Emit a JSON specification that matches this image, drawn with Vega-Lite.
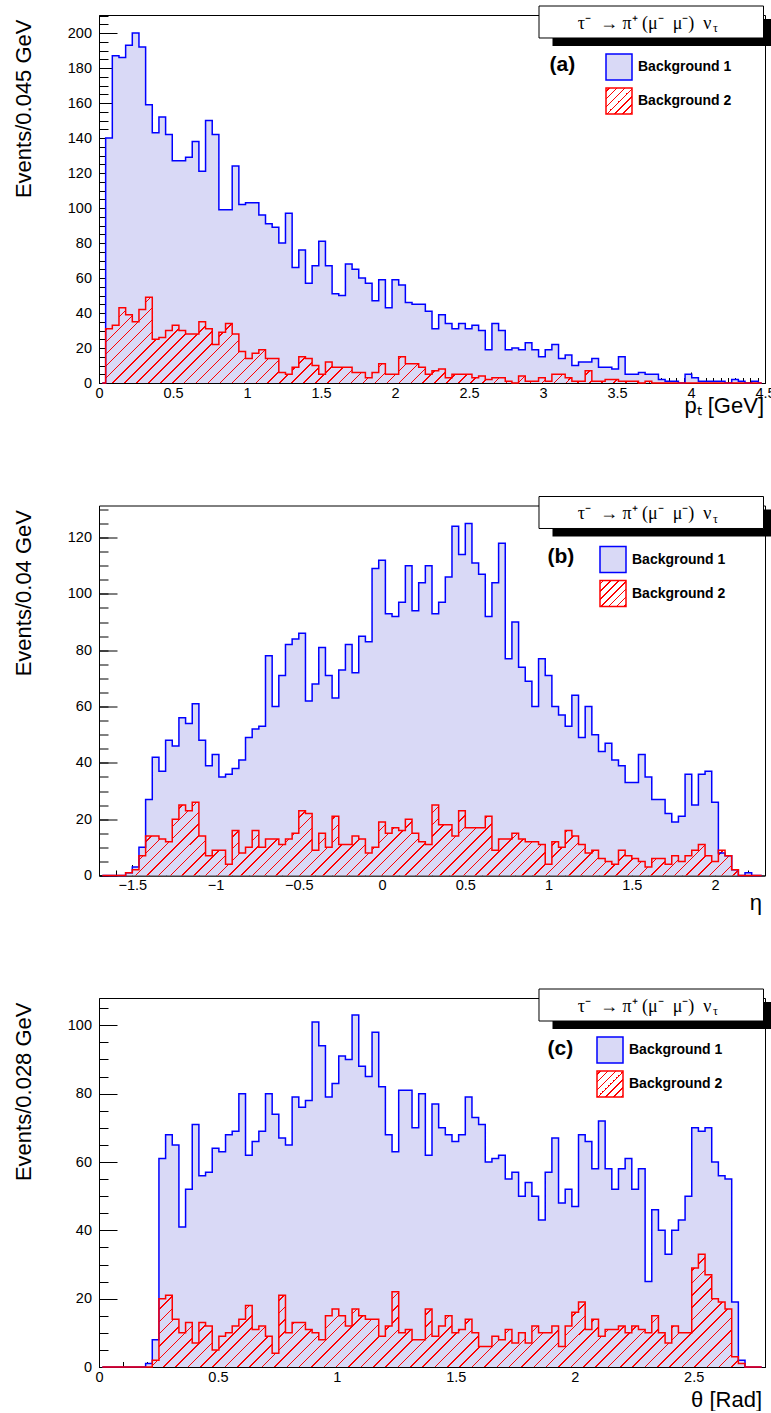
{
"$schema": "https://vega.github.io/schema/vega-lite/v6.json",
"padding": {"left": 11, "top": 5, "right": 0, "bottom": 0},
"bounds": "flush",
"spacing": 122.5,
"datasets": {
"a": [{"x":0.0225,"b1":0,"b2":0},{"x":0.0675,"b1":140,"b2":31},{"x":0.1125,"b1":187,"b2":33},{"x":0.1575,"b1":186,"b2":43},{"x":0.2025,"b1":193,"b2":39},{"x":0.2475,"b1":200,"b2":35},{"x":0.2925,"b1":192,"b2":42},{"x":0.3375,"b1":159,"b2":49},{"x":0.3825,"b1":143,"b2":25},{"x":0.4275,"b1":152,"b2":26},
{"x":0.4725,"b1":142,"b2":30},{"x":0.5175,"b1":127,"b2":33},{"x":0.5625,"b1":127,"b2":30},{"x":0.6075,"b1":129,"b2":28},{"x":0.6525,"b1":138,"b2":28},{"x":0.6975,"b1":121,"b2":35},{"x":0.7425,"b1":150,"b2":31},{"x":0.7875,"b1":142,"b2":22},{"x":0.8325,"b1":99,"b2":29},{"x":0.8775,"b1":99,"b2":34},
{"x":0.9225,"b1":124,"b2":28},{"x":0.9675,"b1":102,"b2":18},{"x":1.0125,"b1":103,"b2":14},{"x":1.0575,"b1":103,"b2":17},{"x":1.1025,"b1":96,"b2":19},{"x":1.1475,"b1":91,"b2":14},{"x":1.1925,"b1":89,"b2":14},{"x":1.2375,"b1":80,"b2":6},{"x":1.2825,"b1":97,"b2":5},{"x":1.3275,"b1":66,"b2":9},
{"x":1.3725,"b1":76,"b2":15},{"x":1.4175,"b1":57,"b2":14},{"x":1.4625,"b1":67,"b2":10},{"x":1.5075,"b1":81,"b2":5},{"x":1.5525,"b1":67,"b2":12},{"x":1.5975,"b1":51,"b2":9},{"x":1.6425,"b1":50,"b2":9},{"x":1.6875,"b1":68,"b2":9},{"x":1.7325,"b1":65,"b2":6},{"x":1.7775,"b1":60,"b2":6},
{"x":1.8225,"b1":57,"b2":3},{"x":1.8675,"b1":47,"b2":6},{"x":1.9125,"b1":59,"b2":11},{"x":1.9575,"b1":43,"b2":5},{"x":2.0025,"b1":59,"b2":5},{"x":2.0475,"b1":56,"b2":15},{"x":2.0925,"b1":46,"b2":11},{"x":2.1375,"b1":45,"b2":11},{"x":2.1825,"b1":45,"b2":9},{"x":2.2275,"b1":41,"b2":5},
{"x":2.2725,"b1":31,"b2":7},{"x":2.3175,"b1":39,"b2":8},{"x":2.3625,"b1":34,"b2":3},{"x":2.4075,"b1":31,"b2":5},{"x":2.4525,"b1":34,"b2":5},{"x":2.4975,"b1":31,"b2":5},{"x":2.5425,"b1":33,"b2":3},{"x":2.5875,"b1":30,"b2":4},{"x":2.6325,"b1":19,"b2":2},{"x":2.6775,"b1":34,"b2":3},
{"x":2.7225,"b1":30,"b2":3},{"x":2.7675,"b1":19,"b2":1},{"x":2.8125,"b1":20,"b2":0},{"x":2.8575,"b1":19,"b2":4},{"x":2.9025,"b1":23,"b2":1},{"x":2.9475,"b1":19,"b2":1},{"x":2.9925,"b1":15,"b2":3},{"x":3.0375,"b1":19,"b2":1},{"x":3.0825,"b1":22,"b2":5},{"x":3.1275,"b1":14,"b2":5},
{"x":3.1725,"b1":16,"b2":3},{"x":3.2175,"b1":10,"b2":1},{"x":3.2625,"b1":12,"b2":1},{"x":3.3075,"b1":12,"b2":7},{"x":3.3525,"b1":14,"b2":1},{"x":3.3975,"b1":9,"b2":1},{"x":3.4425,"b1":9,"b2":2},{"x":3.4875,"b1":8,"b2":2},{"x":3.5325,"b1":15,"b2":1},{"x":3.5775,"b1":5,"b2":1},
{"x":3.6225,"b1":5,"b2":1},{"x":3.6675,"b1":6,"b2":0},{"x":3.7125,"b1":5,"b2":1},{"x":3.7575,"b1":5,"b2":0},{"x":3.8025,"b1":2,"b2":0},{"x":3.8475,"b1":1,"b2":0},{"x":3.8925,"b1":1,"b2":0},{"x":3.9375,"b1":0,"b2":0},{"x":3.9825,"b1":5,"b2":0},{"x":4.0275,"b1":3,"b2":0},
{"x":4.0725,"b1":1,"b2":0},{"x":4.1175,"b1":1,"b2":0},{"x":4.1625,"b1":1,"b2":0},{"x":4.2075,"b1":1,"b2":0},{"x":4.2525,"b1":0,"b2":0},{"x":4.2975,"b1":2,"b2":0},{"x":4.3425,"b1":1,"b2":0},{"x":4.3875,"b1":0,"b2":0},{"x":4.4325,"b1":1,"b2":0},{"x":4.4775,"b1":0,"b2":0}],
"b": [{"x":-1.68,"b1":0,"b2":0},{"x":-1.64,"b1":0,"b2":0},{"x":-1.6,"b1":0,"b2":0},{"x":-1.56,"b1":0,"b2":0},{"x":-1.52,"b1":1,"b2":1},{"x":-1.48,"b1":3,"b2":2},{"x":-1.44,"b1":10,"b2":7},{"x":-1.4,"b1":27,"b2":14},{"x":-1.36,"b1":42,"b2":14},{"x":-1.32,"b1":37,"b2":13},
{"x":-1.28,"b1":48,"b2":12},{"x":-1.24,"b1":46,"b2":20},{"x":-1.2,"b1":56,"b2":25},{"x":-1.16,"b1":54,"b2":23},{"x":-1.12,"b1":61,"b2":26},{"x":-1.08,"b1":48,"b2":14},{"x":-1.04,"b1":39,"b2":7},{"x":-1,"b1":43,"b2":9},{"x":-0.96,"b1":35,"b2":9},{"x":-0.92,"b1":36,"b2":4},
{"x":-0.88,"b1":38,"b2":16},{"x":-0.84,"b1":41,"b2":8},{"x":-0.8,"b1":49,"b2":10},{"x":-0.76,"b1":52,"b2":16},{"x":-0.72,"b1":53,"b2":10},{"x":-0.68,"b1":78,"b2":13},{"x":-0.64,"b1":60,"b2":13},{"x":-0.6,"b1":71,"b2":11},{"x":-0.56,"b1":82,"b2":13},{"x":-0.52,"b1":84,"b2":15},
{"x":-0.48,"b1":86,"b2":23},{"x":-0.44,"b1":62,"b2":22},{"x":-0.4,"b1":68,"b2":9},{"x":-0.36,"b1":81,"b2":15},{"x":-0.32,"b1":71,"b2":10},{"x":-0.28,"b1":63,"b2":21},{"x":-0.24,"b1":73,"b2":11},{"x":-0.2,"b1":82,"b2":11},{"x":-0.16,"b1":72,"b2":14},{"x":-0.12,"b1":85,"b2":13},
{"x":-0.08,"b1":83,"b2":8},{"x":-0.04,"b1":109,"b2":10},{"x":0,"b1":112,"b2":19},{"x":0.04,"b1":93,"b2":15},{"x":0.08,"b1":92,"b2":17},{"x":0.12,"b1":97,"b2":16},{"x":0.16,"b1":110,"b2":20},{"x":0.2,"b1":94,"b2":15},{"x":0.24,"b1":104,"b2":12},{"x":0.28,"b1":110,"b2":11},
{"x":0.32,"b1":93,"b2":25},{"x":0.36,"b1":97,"b2":18},{"x":0.4,"b1":106,"b2":18},{"x":0.44,"b1":124,"b2":14},{"x":0.48,"b1":114,"b2":23},{"x":0.52,"b1":125,"b2":17},{"x":0.56,"b1":111,"b2":17},{"x":0.6,"b1":107,"b2":17},{"x":0.64,"b1":92,"b2":21},{"x":0.68,"b1":104,"b2":9},
{"x":0.72,"b1":118,"b2":13},{"x":0.76,"b1":77,"b2":13},{"x":0.8,"b1":90,"b2":15},{"x":0.84,"b1":74,"b2":13},{"x":0.88,"b1":69,"b2":12},{"x":0.92,"b1":60,"b2":12},{"x":0.96,"b1":77,"b2":11},{"x":1,"b1":71,"b2":4},{"x":1.04,"b1":60,"b2":12},{"x":1.08,"b1":57,"b2":10},
{"x":1.12,"b1":53,"b2":16},{"x":1.16,"b1":64,"b2":14},{"x":1.2,"b1":49,"b2":11},{"x":1.24,"b1":60,"b2":8},{"x":1.28,"b1":50,"b2":9},{"x":1.32,"b1":44,"b2":6},{"x":1.36,"b1":47,"b2":5},{"x":1.4,"b1":41,"b2":4},{"x":1.44,"b1":39,"b2":9},{"x":1.48,"b1":33,"b2":7},
{"x":1.52,"b1":33,"b2":6},{"x":1.56,"b1":43,"b2":5},{"x":1.6,"b1":35,"b2":3},{"x":1.64,"b1":27,"b2":6},{"x":1.68,"b1":27,"b2":6},{"x":1.72,"b1":22,"b2":4},{"x":1.76,"b1":19,"b2":7},{"x":1.8,"b1":21,"b2":5},{"x":1.84,"b1":36,"b2":7},{"x":1.88,"b1":25,"b2":9},
{"x":1.92,"b1":36,"b2":11},{"x":1.96,"b1":37,"b2":7},{"x":2,"b1":26,"b2":5},{"x":2.04,"b1":8,"b2":9},{"x":2.08,"b1":7,"b2":7},{"x":2.12,"b1":2,"b2":2},{"x":2.16,"b1":0,"b2":0},{"x":2.2,"b1":1,"b2":0},{"x":2.24,"b1":0,"b2":0},{"x":2.28,"b1":0,"b2":0}],
"c": [{"x":0.014,"b1":0,"b2":0},{"x":0.042,"b1":0,"b2":0},{"x":0.07,"b1":0,"b2":0},{"x":0.098,"b1":0,"b2":0},{"x":0.126,"b1":0,"b2":0},{"x":0.154,"b1":0,"b2":0},{"x":0.182,"b1":0,"b2":0},{"x":0.21,"b1":1,"b2":0},{"x":0.238,"b1":8,"b2":2},{"x":0.266,"b1":61,"b2":20},
{"x":0.294,"b1":68,"b2":21},{"x":0.322,"b1":65,"b2":14},{"x":0.35,"b1":41,"b2":10},{"x":0.378,"b1":52,"b2":13},{"x":0.406,"b1":71,"b2":7},{"x":0.434,"b1":56,"b2":13},{"x":0.462,"b1":57,"b2":12},{"x":0.49,"b1":64,"b2":5},{"x":0.518,"b1":63,"b2":9},{"x":0.546,"b1":68,"b2":10},
{"x":0.574,"b1":69,"b2":12},{"x":0.602,"b1":80,"b2":14},{"x":0.63,"b1":62,"b2":18},{"x":0.658,"b1":66,"b2":11},{"x":0.686,"b1":69,"b2":12},{"x":0.714,"b1":80,"b2":9},{"x":0.742,"b1":74,"b2":4},{"x":0.77,"b1":67,"b2":21},{"x":0.798,"b1":65,"b2":10},{"x":0.826,"b1":79,"b2":13},
{"x":0.854,"b1":76,"b2":13},{"x":0.882,"b1":78,"b2":11},{"x":0.91,"b1":101,"b2":10},{"x":0.938,"b1":94,"b2":8},{"x":0.966,"b1":79,"b2":15},{"x":0.994,"b1":83,"b2":17},{"x":1.022,"b1":91,"b2":15},{"x":1.05,"b1":90,"b2":12},{"x":1.078,"b1":103,"b2":17},{"x":1.106,"b1":88,"b2":15},
{"x":1.134,"b1":85,"b2":14},{"x":1.162,"b1":98,"b2":14},{"x":1.19,"b1":82,"b2":9},{"x":1.218,"b1":68,"b2":12},{"x":1.246,"b1":63,"b2":22},{"x":1.274,"b1":81,"b2":10},{"x":1.302,"b1":81,"b2":11},{"x":1.33,"b1":70,"b2":8},{"x":1.358,"b1":80,"b2":8},{"x":1.386,"b1":62,"b2":17},
{"x":1.414,"b1":77,"b2":9},{"x":1.442,"b1":70,"b2":12},{"x":1.47,"b1":68,"b2":15},{"x":1.498,"b1":66,"b2":10},{"x":1.526,"b1":68,"b2":11},{"x":1.554,"b1":79,"b2":14},{"x":1.582,"b1":73,"b2":10},{"x":1.61,"b1":71,"b2":6},{"x":1.638,"b1":60,"b2":6},{"x":1.666,"b1":61,"b2":9},
{"x":1.694,"b1":62,"b2":8},{"x":1.722,"b1":55,"b2":11},{"x":1.75,"b1":57,"b2":7},{"x":1.778,"b1":50,"b2":10},{"x":1.806,"b1":54,"b2":7},{"x":1.834,"b1":50,"b2":12},{"x":1.862,"b1":43,"b2":10},{"x":1.89,"b1":57,"b2":10},{"x":1.918,"b1":67,"b2":12},{"x":1.946,"b1":48,"b2":6},
{"x":1.974,"b1":52,"b2":12},{"x":2.002,"b1":47,"b2":16},{"x":2.03,"b1":68,"b2":19},{"x":2.058,"b1":66,"b2":11},{"x":2.086,"b1":58,"b2":14},{"x":2.114,"b1":72,"b2":9},{"x":2.142,"b1":58,"b2":11},{"x":2.17,"b1":52,"b2":11},{"x":2.198,"b1":58,"b2":12},{"x":2.226,"b1":61,"b2":10},
{"x":2.254,"b1":52,"b2":12},{"x":2.282,"b1":58,"b2":11},{"x":2.31,"b1":25,"b2":10},{"x":2.338,"b1":46,"b2":15},{"x":2.366,"b1":40,"b2":10},{"x":2.394,"b1":33,"b2":7},{"x":2.422,"b1":40,"b2":12},{"x":2.45,"b1":43,"b2":10},{"x":2.478,"b1":50,"b2":10},{"x":2.506,"b1":70,"b2":29},
{"x":2.534,"b1":69,"b2":33},{"x":2.562,"b1":70,"b2":27},{"x":2.59,"b1":60,"b2":20},{"x":2.618,"b1":56,"b2":19},{"x":2.646,"b1":55,"b2":17},{"x":2.674,"b1":19,"b2":3},{"x":2.702,"b1":2,"b2":1},{"x":2.73,"b1":0,"b2":0},{"x":2.758,"b1":0,"b2":0},{"x":2.786,"b1":0,"b2":0}]
},
"resolve": {"scale": {"stroke": "independent"}, "legend": {"stroke": "independent"}},
"vconcat": [
{
"width": 666, "height": 368,
"data": {"name": "a"},
"resolve": {"axis": {"x": "independent", "y": "independent"}},
"layer": [
{"mark": {"type": "area", "interpolate": "step", "fill": "#d9d9f6"},
 "encoding": {
  "x": {"field": "x", "type": "quantitative", "scale": {"domain": [0, 4.5], "nice": false, "zero": false},
        "axis": {"orient": "bottom", "values": [0,0.5,1,1.5,2,2.5,3,3.5,4,4.5], "format": "~f", "tickSize": -11, "labelPadding": 14, "title": "pₜ [GeV]", "titleX": 664.5, "titleY": 29}},
  "y": {"field": "b1", "type": "quantitative", "scale": {"domain": [0, 210.3], "nice": false},
        "axis": {"orient": "left", "values": [0,20,40,60,80,100,120,140,160,180,200], "format": "~f", "tickSize": -18, "labelPadding": 25.5, "title": "Events/0.045 GeV", "titleX": -69, "titleY": 4}}
 }},
{"mark": {"type": "area", "interpolate": "step", "fill": {"gradient": "linear", "x1": 0, "y1": 0, "x2": 1.1113, "y2": 0.1445, "stops": [{"offset":0,"color":"red"},{"offset":0.002,"color":"red"},{"offset":0.002,"color":"transparent"},{"offset":0.016,"color":"transparent"},{"offset":0.016,"color":"red"},{"offset":0.018,"color":"red"},{"offset":0.018,"color":"transparent"},{"offset":0.032,"color":"transparent"},{"offset":0.032,"color":"red"},{"offset":0.034,"color":"red"},{"offset":0.034,"color":"transparent"},{"offset":0.048,"color":"transparent"},{"offset":0.048,"color":"red"},{"offset":0.05,"color":"red"},{"offset":0.05,"color":"transparent"},{"offset":0.064,"color":"transparent"},{"offset":0.064,"color":"red"},{"offset":0.066,"color":"red"},{"offset":0.066,"color":"transparent"},{"offset":0.08,"color":"transparent"},{"offset":0.08,"color":"red"},{"offset":0.082,"color":"red"},{"offset":0.082,"color":"transparent"},{"offset":0.096,"color":"transparent"},{"offset":0.096,"color":"red"},{"offset":0.098,"color":"red"},{"offset":0.098,"color":"transparent"},{"offset":0.112,"color":"transparent"},{"offset":0.112,"color":"red"},{"offset":0.114,"color":"red"},{"offset":0.114,"color":"transparent"},{"offset":0.128,"color":"transparent"},{"offset":0.128,"color":"red"},{"offset":0.13,"color":"red"},{"offset":0.13,"color":"transparent"},{"offset":0.144,"color":"transparent"},{"offset":0.144,"color":"red"},{"offset":0.146,"color":"red"},{"offset":0.146,"color":"transparent"},{"offset":0.16,"color":"transparent"},{"offset":0.16,"color":"red"},{"offset":0.162,"color":"red"},{"offset":0.162,"color":"transparent"},{"offset":0.176,"color":"transparent"},{"offset":0.176,"color":"red"},{"offset":0.178,"color":"red"},{"offset":0.178,"color":"transparent"},{"offset":0.192,"color":"transparent"},{"offset":0.192,"color":"red"},{"offset":0.194,"color":"red"},{"offset":0.194,"color":"transparent"},{"offset":0.208,"color":"transparent"},{"offset":0.208,"color":"red"},{"offset":0.21,"color":"red"},{"offset":0.21,"color":"transparent"},{"offset":0.224,"color":"transparent"},{"offset":0.224,"color":"red"},{"offset":0.226,"color":"red"},{"offset":0.226,"color":"transparent"},{"offset":0.24,"color":"transparent"},{"offset":0.24,"color":"red"},{"offset":0.242,"color":"red"},{"offset":0.242,"color":"transparent"},{"offset":0.256,"color":"transparent"},{"offset":0.256,"color":"red"},{"offset":0.258,"color":"red"},{"offset":0.258,"color":"transparent"},{"offset":0.272,"color":"transparent"},{"offset":0.272,"color":"red"},{"offset":0.274,"color":"red"},{"offset":0.274,"color":"transparent"},{"offset":0.288,"color":"transparent"},{"offset":0.288,"color":"red"},{"offset":0.29,"color":"red"},{"offset":0.29,"color":"transparent"},{"offset":0.304,"color":"transparent"},{"offset":0.304,"color":"red"},{"offset":0.306,"color":"red"},{"offset":0.306,"color":"transparent"},{"offset":0.32,"color":"transparent"},{"offset":0.32,"color":"red"},{"offset":0.322,"color":"red"},{"offset":0.322,"color":"transparent"},{"offset":0.336,"color":"transparent"},{"offset":0.336,"color":"red"},{"offset":0.338,"color":"red"},{"offset":0.338,"color":"transparent"},{"offset":0.352,"color":"transparent"},{"offset":0.352,"color":"red"},{"offset":0.354,"color":"red"},{"offset":0.354,"color":"transparent"},{"offset":0.368,"color":"transparent"},{"offset":0.368,"color":"red"},{"offset":0.37,"color":"red"},{"offset":0.37,"color":"transparent"},{"offset":0.384,"color":"transparent"},{"offset":0.384,"color":"red"},{"offset":0.386,"color":"red"},{"offset":0.386,"color":"transparent"},{"offset":0.4,"color":"transparent"},{"offset":0.4,"color":"red"},{"offset":0.402,"color":"red"},{"offset":0.402,"color":"transparent"},{"offset":0.416,"color":"transparent"},{"offset":0.416,"color":"red"},{"offset":0.418,"color":"red"},{"offset":0.418,"color":"transparent"},{"offset":0.432,"color":"transparent"},{"offset":0.432,"color":"red"},{"offset":0.434,"color":"red"},{"offset":0.434,"color":"transparent"},{"offset":0.448,"color":"transparent"},{"offset":0.448,"color":"red"},{"offset":0.45,"color":"red"},{"offset":0.45,"color":"transparent"},{"offset":0.464,"color":"transparent"},{"offset":0.464,"color":"red"},{"offset":0.466,"color":"red"},{"offset":0.466,"color":"transparent"},{"offset":0.48,"color":"transparent"},{"offset":0.48,"color":"red"},{"offset":0.482,"color":"red"},{"offset":0.482,"color":"transparent"},{"offset":0.496,"color":"transparent"},{"offset":0.496,"color":"red"},{"offset":0.498,"color":"red"},{"offset":0.498,"color":"transparent"},{"offset":0.512,"color":"transparent"},{"offset":0.512,"color":"red"},{"offset":0.514,"color":"red"},{"offset":0.514,"color":"transparent"},{"offset":0.528,"color":"transparent"},{"offset":0.528,"color":"red"},{"offset":0.53,"color":"red"},{"offset":0.53,"color":"transparent"},{"offset":0.544,"color":"transparent"},{"offset":0.544,"color":"red"},{"offset":0.546,"color":"red"},{"offset":0.546,"color":"transparent"},{"offset":0.56,"color":"transparent"},{"offset":0.56,"color":"red"},{"offset":0.562,"color":"red"},{"offset":0.562,"color":"transparent"},{"offset":0.576,"color":"transparent"},{"offset":0.576,"color":"red"},{"offset":0.578,"color":"red"},{"offset":0.578,"color":"transparent"},{"offset":0.592,"color":"transparent"},{"offset":0.592,"color":"red"},{"offset":0.594,"color":"red"},{"offset":0.594,"color":"transparent"},{"offset":0.608,"color":"transparent"},{"offset":0.608,"color":"red"},{"offset":0.61,"color":"red"},{"offset":0.61,"color":"transparent"},{"offset":0.624,"color":"transparent"},{"offset":0.624,"color":"red"},{"offset":0.626,"color":"red"},{"offset":0.626,"color":"transparent"},{"offset":0.64,"color":"transparent"},{"offset":0.64,"color":"red"},{"offset":0.642,"color":"red"},{"offset":0.642,"color":"transparent"},{"offset":0.656,"color":"transparent"},{"offset":0.656,"color":"red"},{"offset":0.658,"color":"red"},{"offset":0.658,"color":"transparent"},{"offset":0.672,"color":"transparent"},{"offset":0.672,"color":"red"},{"offset":0.674,"color":"red"},{"offset":0.674,"color":"transparent"},{"offset":0.688,"color":"transparent"},{"offset":0.688,"color":"red"},{"offset":0.69,"color":"red"},{"offset":0.69,"color":"transparent"},{"offset":0.704,"color":"transparent"},{"offset":0.704,"color":"red"},{"offset":0.706,"color":"red"},{"offset":0.706,"color":"transparent"},{"offset":0.72,"color":"transparent"},{"offset":0.72,"color":"red"},{"offset":0.722,"color":"red"},{"offset":0.722,"color":"transparent"},{"offset":0.736,"color":"transparent"},{"offset":0.736,"color":"red"},{"offset":0.738,"color":"red"},{"offset":0.738,"color":"transparent"},{"offset":0.752,"color":"transparent"},{"offset":0.752,"color":"red"},{"offset":0.754,"color":"red"},{"offset":0.754,"color":"transparent"},{"offset":0.768,"color":"transparent"},{"offset":0.768,"color":"red"},{"offset":0.77,"color":"red"},{"offset":0.77,"color":"transparent"},{"offset":0.784,"color":"transparent"},{"offset":0.784,"color":"red"},{"offset":0.786,"color":"red"},{"offset":0.786,"color":"transparent"},{"offset":0.8,"color":"transparent"},{"offset":0.8,"color":"red"},{"offset":0.802,"color":"red"},{"offset":0.802,"color":"transparent"},{"offset":0.816,"color":"transparent"},{"offset":0.816,"color":"red"},{"offset":0.818,"color":"red"},{"offset":0.818,"color":"transparent"},{"offset":0.832,"color":"transparent"},{"offset":0.832,"color":"red"},{"offset":0.834,"color":"red"},{"offset":0.834,"color":"transparent"},{"offset":0.848,"color":"transparent"},{"offset":0.848,"color":"red"},{"offset":0.85,"color":"red"},{"offset":0.85,"color":"transparent"},{"offset":0.864,"color":"transparent"},{"offset":0.864,"color":"red"},{"offset":0.866,"color":"red"},{"offset":0.866,"color":"transparent"},{"offset":0.88,"color":"transparent"},{"offset":0.88,"color":"red"},{"offset":0.882,"color":"red"},{"offset":0.882,"color":"transparent"},{"offset":0.896,"color":"transparent"},{"offset":0.896,"color":"red"},{"offset":0.898,"color":"red"},{"offset":0.898,"color":"transparent"},{"offset":0.912,"color":"transparent"},{"offset":0.912,"color":"red"},{"offset":0.914,"color":"red"},{"offset":0.914,"color":"transparent"},{"offset":0.928,"color":"transparent"},{"offset":0.928,"color":"red"},{"offset":0.93,"color":"red"},{"offset":0.93,"color":"transparent"},{"offset":0.944,"color":"transparent"},{"offset":0.944,"color":"red"},{"offset":0.946,"color":"red"},{"offset":0.946,"color":"transparent"},{"offset":0.96,"color":"transparent"},{"offset":0.96,"color":"red"},{"offset":0.962,"color":"red"},{"offset":0.962,"color":"transparent"},{"offset":0.976,"color":"transparent"},{"offset":0.976,"color":"red"},{"offset":0.978,"color":"red"},{"offset":0.978,"color":"transparent"},{"offset":0.992,"color":"transparent"},{"offset":0.992,"color":"red"},{"offset":0.994,"color":"red"},{"offset":0.994,"color":"transparent"}]}},
 "encoding": {
  "x": {"field": "x", "type": "quantitative", "axis": {"orient": "bottom", "values": [0,0.05,0.1,0.15,0.2,0.25,0.3,0.35,0.4,0.45,0.5,0.55,0.6,0.65,0.7,0.75,0.8,0.85,0.9,0.95,1,1.05,1.1,1.15,1.2,1.25,1.3,1.35,1.4,1.45,1.5,1.55,1.6,1.65,1.7,1.75,1.8,1.85,1.9,1.95,2,2.05,2.1,2.15,2.2,2.25,2.3,2.35,2.4,2.45,2.5,2.55,2.6,2.65,2.7,2.75,2.8,2.85,2.9,2.95,3,3.05,3.1,3.15,3.2,3.25,3.3,3.35,3.4,3.45,3.5,3.55,3.6,3.65,3.7,3.75,3.8,3.85,3.9,3.95,4,4.05,4.1,4.15,4.2,4.25,4.3,4.35,4.4,4.45,4.5], "labels": false, "domain": false, "tickSize": -5.5, "title": null}},
  "y": {"field": "b2", "type": "quantitative", "axis": {"orient": "left", "values": [0,5,10,15,20,25,30,35,40,45,50,55,60,65,70,75,80,85,90,95,100,105,110,115,120,125,130,135,140,145,150,155,160,165,170,175,180,185,190,195,200,205,210], "labels": false, "domain": false, "tickSize": -9, "title": null}}
 }},
{"mark": {"type": "line", "interpolate": "step", "strokeWidth": 1.5},
 "encoding": {
  "x": {"field": "x", "type": "quantitative", "axis": null},
  "y": {"field": "b1", "type": "quantitative", "axis": null},
  "stroke": {"datum": "Background 1", "type": "nominal", "scale": {"domain": ["Background 1", "Background 2"], "range": ["#0000ff", "#ff0000"]},
    "legend": {"legendX": 506, "legendY": 38, "encode": {"symbols": {"update": {"fill": [{"test": "datum.value === 'Background 1'", "value": "#d9d9f6"}, {"value": {"gradient": "linear", "x1": 0, "y1": 0, "x2": 1, "y2": 1, "stops": [{"offset":0.05,"color":"transparent"},{"offset":0.05,"color":"red"},{"offset":0.08,"color":"red"},{"offset":0.08,"color":"transparent"},{"offset":0.2,"color":"transparent"},{"offset":0.2,"color":"red"},{"offset":0.23,"color":"red"},{"offset":0.23,"color":"transparent"},{"offset":0.35,"color":"transparent"},{"offset":0.35,"color":"red"},{"offset":0.38,"color":"red"},{"offset":0.38,"color":"transparent"},{"offset":0.5,"color":"transparent"},{"offset":0.5,"color":"red"},{"offset":0.53,"color":"red"},{"offset":0.53,"color":"transparent"},{"offset":0.65,"color":"transparent"},{"offset":0.65,"color":"red"},{"offset":0.68,"color":"red"},{"offset":0.68,"color":"transparent"},{"offset":0.8,"color":"transparent"},{"offset":0.8,"color":"red"},{"offset":0.83,"color":"red"},{"offset":0.83,"color":"transparent"},{"offset":0.95,"color":"transparent"},{"offset":0.95,"color":"red"},{"offset":0.98,"color":"red"},{"offset":0.98,"color":"transparent"}]}}], "fillOpacity": {"value": 1}}}}}}
 }},
{"mark": {"type": "line", "interpolate": "step", "strokeWidth": 1.5},
 "encoding": {
  "x": {"field": "x", "type": "quantitative", "axis": null},
  "y": {"field": "b2", "type": "quantitative", "axis": null},
  "stroke": {"datum": "Background 2", "type": "nominal"}
 }},
{"data": {"values": [{}]}, "mark": {"type": "rect", "fill": "black"},
 "encoding": {"x": {"datum": 3.0642, "type": "quantitative", "axis": null}, "x2": {"datum": 4.5507}, "y": {"datum": 208.01, "type": "quantitative", "axis": null}, "y2": {"datum": 192.59}}},
{"data": {"values": [{}]}, "mark": {"type": "rect", "fill": "white", "stroke": "black", "strokeWidth": 1},
 "encoding": {"x": {"datum": 2.973, "type": "quantitative", "axis": null}, "x2": {"datum": 4.4899}, "y": {"datum": 215.44, "type": "quantitative", "axis": null}, "y2": {"datum": 197.16}}},
{"data": {"values": [{}]}, "mark": {"type": "text", "text": "τ⁻\u00a0 → π⁺ (μ⁻\u00a0 μ⁻)\u00a0 ν", "align": "right", "baseline": "alphabetic", "font": "Liberation Serif", "fontSize": 18, "fill": "black"},
 "encoding": {"x": {"datum": 4.1385, "type": "quantitative", "axis": null}, "y": {"datum": 202.3, "type": "quantitative", "axis": null}}},
{"data": {"values": [{}]}, "mark": {"type": "text", "text": "τ", "align": "left", "baseline": "alphabetic", "font": "Liberation Serif", "fontSize": 12, "fill": "black"},
 "encoding": {"x": {"datum": 4.1486, "type": "quantitative", "axis": null}, "y": {"datum": 200.3, "type": "quantitative", "axis": null}}},
{"data": {"values": [{}]}, "mark": {"type": "text", "text": "(a)", "align": "left", "baseline": "middle", "font": "Liberation Sans", "fontSize": 21, "fontWeight": "bold", "fill": "black"},
 "encoding": {"x": {"datum": 3.0439, "type": "quantitative", "axis": null}, "y": {"datum": 182.01, "type": "quantitative", "axis": null}}}
]
},
{
"width": 666, "height": 370,
"data": {"name": "b"},
"resolve": {"axis": {"x": "independent", "y": "independent"}},
"layer": [
{"mark": {"type": "area", "interpolate": "step", "fill": "#d9d9f6"},
 "encoding": {
  "x": {"field": "x", "type": "quantitative", "scale": {"domain": [-1.7, 2.3], "nice": false, "zero": false},
        "axis": {"orient": "bottom", "values": [-1.5,-1,-0.5,0,0.5,1,1.5,2], "format": "~f", "tickSize": -11, "labelPadding": 14, "title": "η", "titleX": 662.5, "titleY": 34}},
  "y": {"field": "b1", "type": "quantitative", "scale": {"domain": [0, 131.4], "nice": false},
        "axis": {"orient": "left", "values": [0,20,40,60,80,100,120], "format": "~f", "tickSize": -18, "labelPadding": 25.5, "title": "Events/0.04 GeV", "titleX": -69, "titleY": 4}}
 }},
{"mark": {"type": "area", "interpolate": "step", "fill": {"gradient": "linear", "x1": 0, "y1": 0, "x2": 1.0975, "y2": 0.1219, "stops": [{"offset":0,"color":"red"},{"offset":0.002,"color":"red"},{"offset":0.002,"color":"transparent"},{"offset":0.016,"color":"transparent"},{"offset":0.016,"color":"red"},{"offset":0.018,"color":"red"},{"offset":0.018,"color":"transparent"},{"offset":0.032,"color":"transparent"},{"offset":0.032,"color":"red"},{"offset":0.034,"color":"red"},{"offset":0.034,"color":"transparent"},{"offset":0.048,"color":"transparent"},{"offset":0.048,"color":"red"},{"offset":0.05,"color":"red"},{"offset":0.05,"color":"transparent"},{"offset":0.064,"color":"transparent"},{"offset":0.064,"color":"red"},{"offset":0.066,"color":"red"},{"offset":0.066,"color":"transparent"},{"offset":0.08,"color":"transparent"},{"offset":0.08,"color":"red"},{"offset":0.082,"color":"red"},{"offset":0.082,"color":"transparent"},{"offset":0.096,"color":"transparent"},{"offset":0.096,"color":"red"},{"offset":0.098,"color":"red"},{"offset":0.098,"color":"transparent"},{"offset":0.112,"color":"transparent"},{"offset":0.112,"color":"red"},{"offset":0.114,"color":"red"},{"offset":0.114,"color":"transparent"},{"offset":0.128,"color":"transparent"},{"offset":0.128,"color":"red"},{"offset":0.13,"color":"red"},{"offset":0.13,"color":"transparent"},{"offset":0.144,"color":"transparent"},{"offset":0.144,"color":"red"},{"offset":0.146,"color":"red"},{"offset":0.146,"color":"transparent"},{"offset":0.16,"color":"transparent"},{"offset":0.16,"color":"red"},{"offset":0.162,"color":"red"},{"offset":0.162,"color":"transparent"},{"offset":0.176,"color":"transparent"},{"offset":0.176,"color":"red"},{"offset":0.178,"color":"red"},{"offset":0.178,"color":"transparent"},{"offset":0.192,"color":"transparent"},{"offset":0.192,"color":"red"},{"offset":0.194,"color":"red"},{"offset":0.194,"color":"transparent"},{"offset":0.208,"color":"transparent"},{"offset":0.208,"color":"red"},{"offset":0.21,"color":"red"},{"offset":0.21,"color":"transparent"},{"offset":0.224,"color":"transparent"},{"offset":0.224,"color":"red"},{"offset":0.226,"color":"red"},{"offset":0.226,"color":"transparent"},{"offset":0.24,"color":"transparent"},{"offset":0.24,"color":"red"},{"offset":0.242,"color":"red"},{"offset":0.242,"color":"transparent"},{"offset":0.256,"color":"transparent"},{"offset":0.256,"color":"red"},{"offset":0.258,"color":"red"},{"offset":0.258,"color":"transparent"},{"offset":0.272,"color":"transparent"},{"offset":0.272,"color":"red"},{"offset":0.274,"color":"red"},{"offset":0.274,"color":"transparent"},{"offset":0.288,"color":"transparent"},{"offset":0.288,"color":"red"},{"offset":0.29,"color":"red"},{"offset":0.29,"color":"transparent"},{"offset":0.304,"color":"transparent"},{"offset":0.304,"color":"red"},{"offset":0.306,"color":"red"},{"offset":0.306,"color":"transparent"},{"offset":0.32,"color":"transparent"},{"offset":0.32,"color":"red"},{"offset":0.322,"color":"red"},{"offset":0.322,"color":"transparent"},{"offset":0.336,"color":"transparent"},{"offset":0.336,"color":"red"},{"offset":0.338,"color":"red"},{"offset":0.338,"color":"transparent"},{"offset":0.352,"color":"transparent"},{"offset":0.352,"color":"red"},{"offset":0.354,"color":"red"},{"offset":0.354,"color":"transparent"},{"offset":0.368,"color":"transparent"},{"offset":0.368,"color":"red"},{"offset":0.37,"color":"red"},{"offset":0.37,"color":"transparent"},{"offset":0.384,"color":"transparent"},{"offset":0.384,"color":"red"},{"offset":0.386,"color":"red"},{"offset":0.386,"color":"transparent"},{"offset":0.4,"color":"transparent"},{"offset":0.4,"color":"red"},{"offset":0.402,"color":"red"},{"offset":0.402,"color":"transparent"},{"offset":0.416,"color":"transparent"},{"offset":0.416,"color":"red"},{"offset":0.418,"color":"red"},{"offset":0.418,"color":"transparent"},{"offset":0.432,"color":"transparent"},{"offset":0.432,"color":"red"},{"offset":0.434,"color":"red"},{"offset":0.434,"color":"transparent"},{"offset":0.448,"color":"transparent"},{"offset":0.448,"color":"red"},{"offset":0.45,"color":"red"},{"offset":0.45,"color":"transparent"},{"offset":0.464,"color":"transparent"},{"offset":0.464,"color":"red"},{"offset":0.466,"color":"red"},{"offset":0.466,"color":"transparent"},{"offset":0.48,"color":"transparent"},{"offset":0.48,"color":"red"},{"offset":0.482,"color":"red"},{"offset":0.482,"color":"transparent"},{"offset":0.496,"color":"transparent"},{"offset":0.496,"color":"red"},{"offset":0.498,"color":"red"},{"offset":0.498,"color":"transparent"},{"offset":0.512,"color":"transparent"},{"offset":0.512,"color":"red"},{"offset":0.514,"color":"red"},{"offset":0.514,"color":"transparent"},{"offset":0.528,"color":"transparent"},{"offset":0.528,"color":"red"},{"offset":0.53,"color":"red"},{"offset":0.53,"color":"transparent"},{"offset":0.544,"color":"transparent"},{"offset":0.544,"color":"red"},{"offset":0.546,"color":"red"},{"offset":0.546,"color":"transparent"},{"offset":0.56,"color":"transparent"},{"offset":0.56,"color":"red"},{"offset":0.562,"color":"red"},{"offset":0.562,"color":"transparent"},{"offset":0.576,"color":"transparent"},{"offset":0.576,"color":"red"},{"offset":0.578,"color":"red"},{"offset":0.578,"color":"transparent"},{"offset":0.592,"color":"transparent"},{"offset":0.592,"color":"red"},{"offset":0.594,"color":"red"},{"offset":0.594,"color":"transparent"},{"offset":0.608,"color":"transparent"},{"offset":0.608,"color":"red"},{"offset":0.61,"color":"red"},{"offset":0.61,"color":"transparent"},{"offset":0.624,"color":"transparent"},{"offset":0.624,"color":"red"},{"offset":0.626,"color":"red"},{"offset":0.626,"color":"transparent"},{"offset":0.64,"color":"transparent"},{"offset":0.64,"color":"red"},{"offset":0.642,"color":"red"},{"offset":0.642,"color":"transparent"},{"offset":0.656,"color":"transparent"},{"offset":0.656,"color":"red"},{"offset":0.658,"color":"red"},{"offset":0.658,"color":"transparent"},{"offset":0.672,"color":"transparent"},{"offset":0.672,"color":"red"},{"offset":0.674,"color":"red"},{"offset":0.674,"color":"transparent"},{"offset":0.688,"color":"transparent"},{"offset":0.688,"color":"red"},{"offset":0.69,"color":"red"},{"offset":0.69,"color":"transparent"},{"offset":0.704,"color":"transparent"},{"offset":0.704,"color":"red"},{"offset":0.706,"color":"red"},{"offset":0.706,"color":"transparent"},{"offset":0.72,"color":"transparent"},{"offset":0.72,"color":"red"},{"offset":0.722,"color":"red"},{"offset":0.722,"color":"transparent"},{"offset":0.736,"color":"transparent"},{"offset":0.736,"color":"red"},{"offset":0.738,"color":"red"},{"offset":0.738,"color":"transparent"},{"offset":0.752,"color":"transparent"},{"offset":0.752,"color":"red"},{"offset":0.754,"color":"red"},{"offset":0.754,"color":"transparent"},{"offset":0.768,"color":"transparent"},{"offset":0.768,"color":"red"},{"offset":0.77,"color":"red"},{"offset":0.77,"color":"transparent"},{"offset":0.784,"color":"transparent"},{"offset":0.784,"color":"red"},{"offset":0.786,"color":"red"},{"offset":0.786,"color":"transparent"},{"offset":0.8,"color":"transparent"},{"offset":0.8,"color":"red"},{"offset":0.802,"color":"red"},{"offset":0.802,"color":"transparent"},{"offset":0.816,"color":"transparent"},{"offset":0.816,"color":"red"},{"offset":0.818,"color":"red"},{"offset":0.818,"color":"transparent"},{"offset":0.832,"color":"transparent"},{"offset":0.832,"color":"red"},{"offset":0.834,"color":"red"},{"offset":0.834,"color":"transparent"},{"offset":0.848,"color":"transparent"},{"offset":0.848,"color":"red"},{"offset":0.85,"color":"red"},{"offset":0.85,"color":"transparent"},{"offset":0.864,"color":"transparent"},{"offset":0.864,"color":"red"},{"offset":0.866,"color":"red"},{"offset":0.866,"color":"transparent"},{"offset":0.88,"color":"transparent"},{"offset":0.88,"color":"red"},{"offset":0.882,"color":"red"},{"offset":0.882,"color":"transparent"},{"offset":0.896,"color":"transparent"},{"offset":0.896,"color":"red"},{"offset":0.898,"color":"red"},{"offset":0.898,"color":"transparent"},{"offset":0.912,"color":"transparent"},{"offset":0.912,"color":"red"},{"offset":0.914,"color":"red"},{"offset":0.914,"color":"transparent"},{"offset":0.928,"color":"transparent"},{"offset":0.928,"color":"red"},{"offset":0.93,"color":"red"},{"offset":0.93,"color":"transparent"},{"offset":0.944,"color":"transparent"},{"offset":0.944,"color":"red"},{"offset":0.946,"color":"red"},{"offset":0.946,"color":"transparent"},{"offset":0.96,"color":"transparent"},{"offset":0.96,"color":"red"},{"offset":0.962,"color":"red"},{"offset":0.962,"color":"transparent"},{"offset":0.976,"color":"transparent"},{"offset":0.976,"color":"red"},{"offset":0.978,"color":"red"},{"offset":0.978,"color":"transparent"},{"offset":0.992,"color":"transparent"},{"offset":0.992,"color":"red"},{"offset":0.994,"color":"red"},{"offset":0.994,"color":"transparent"}]}},
 "encoding": {
  "x": {"field": "x", "type": "quantitative", "axis": {"orient": "bottom", "values": [-1.7,-1.6,-1.5,-1.4,-1.3,-1.2,-1.1,-1,-0.9,-0.8,-0.7,-0.6,-0.5,-0.4,-0.3,-0.2,-0.1,0,0.1,0.2,0.3,0.4,0.5,0.6,0.7,0.8,0.9,1,1.1,1.2,1.3,1.4,1.5,1.6,1.7,1.8,1.9,2,2.1,2.2,2.3], "labels": false, "domain": false, "tickSize": -5.5, "title": null}},
  "y": {"field": "b2", "type": "quantitative", "axis": {"orient": "left", "values": [0,5,10,15,20,25,30,35,40,45,50,55,60,65,70,75,80,85,90,95,100,105,110,115,120,125,130], "labels": false, "domain": false, "tickSize": -9, "title": null}}
 }},
{"mark": {"type": "line", "interpolate": "step", "strokeWidth": 1.5},
 "encoding": {
  "x": {"field": "x", "type": "quantitative", "axis": null},
  "y": {"field": "b1", "type": "quantitative", "axis": null},
  "stroke": {"datum": "Background 1", "type": "nominal", "scale": {"domain": ["Background 1", "Background 2"], "range": ["#0000ff", "#ff0000"]},
    "legend": {"legendX": 500, "legendY": 40, "encode": {"symbols": {"update": {"fill": [{"test": "datum.value === 'Background 1'", "value": "#d9d9f6"}, {"value": {"gradient": "linear", "x1": 0, "y1": 0, "x2": 1, "y2": 1, "stops": [{"offset":0.05,"color":"transparent"},{"offset":0.05,"color":"red"},{"offset":0.08,"color":"red"},{"offset":0.08,"color":"transparent"},{"offset":0.2,"color":"transparent"},{"offset":0.2,"color":"red"},{"offset":0.23,"color":"red"},{"offset":0.23,"color":"transparent"},{"offset":0.35,"color":"transparent"},{"offset":0.35,"color":"red"},{"offset":0.38,"color":"red"},{"offset":0.38,"color":"transparent"},{"offset":0.5,"color":"transparent"},{"offset":0.5,"color":"red"},{"offset":0.53,"color":"red"},{"offset":0.53,"color":"transparent"},{"offset":0.65,"color":"transparent"},{"offset":0.65,"color":"red"},{"offset":0.68,"color":"red"},{"offset":0.68,"color":"transparent"},{"offset":0.8,"color":"transparent"},{"offset":0.8,"color":"red"},{"offset":0.83,"color":"red"},{"offset":0.83,"color":"transparent"},{"offset":0.95,"color":"transparent"},{"offset":0.95,"color":"red"},{"offset":0.98,"color":"red"},{"offset":0.98,"color":"transparent"}]}}], "fillOpacity": {"value": 1}}}}}}
 }},
{"mark": {"type": "line", "interpolate": "step", "strokeWidth": 1.5},
 "encoding": {
  "x": {"field": "x", "type": "quantitative", "axis": null},
  "y": {"field": "b2", "type": "quantitative", "axis": null},
  "stroke": {"datum": "Background 2", "type": "nominal"}
 }},
{"data": {"values": [{}]}, "mark": {"type": "rect", "fill": "black"},
 "encoding": {"x": {"datum": 1.0237, "type": "quantitative", "axis": null}, "x2": {"datum": 2.345}, "y": {"datum": 129.98, "type": "quantitative", "axis": null}, "y2": {"datum": 120.39}}},
{"data": {"values": [{}]}, "mark": {"type": "rect", "fill": "white", "stroke": "black", "strokeWidth": 1},
 "encoding": {"x": {"datum": 0.9426, "type": "quantitative", "axis": null}, "x2": {"datum": 2.291}, "y": {"datum": 134.596, "type": "quantitative", "axis": null}, "y2": {"datum": 123.232}}},
{"data": {"values": [{}]}, "mark": {"type": "text", "text": "τ⁻\u00a0 → π⁺ (μ⁻\u00a0 μ⁻)\u00a0 ν", "align": "right", "baseline": "alphabetic", "font": "Liberation Serif", "fontSize": 18, "fill": "black"},
 "encoding": {"x": {"datum": 1.9787, "type": "quantitative", "axis": null}, "y": {"datum": 126.43, "type": "quantitative", "axis": null}}},
{"data": {"values": [{}]}, "mark": {"type": "text", "text": "τ", "align": "left", "baseline": "alphabetic", "font": "Liberation Serif", "fontSize": 12, "fill": "black"},
 "encoding": {"x": {"datum": 1.9877, "type": "quantitative", "axis": null}, "y": {"datum": 125.2, "type": "quantitative", "axis": null}}},
{"data": {"values": [{}]}, "mark": {"type": "text", "text": "(b)", "align": "left", "baseline": "middle", "font": "Liberation Sans", "fontSize": 21, "fontWeight": "bold", "fill": "black"},
 "encoding": {"x": {"datum": 0.9937, "type": "quantitative", "axis": null}, "y": {"datum": 113.04, "type": "quantitative", "axis": null}}}
]
},
{
"width": 666, "height": 369,
"data": {"name": "c"},
"resolve": {"axis": {"x": "independent", "y": "independent"}},
"layer": [
{"mark": {"type": "area", "interpolate": "step", "fill": "#d9d9f6"},
 "encoding": {
  "x": {"field": "x", "type": "quantitative", "scale": {"domain": [0, 2.8], "nice": false, "zero": false},
        "axis": {"orient": "bottom", "values": [0,0.5,1,1.5,2,2.5], "format": "~f", "tickSize": -11, "labelPadding": 14, "title": "θ [Rad]", "titleX": 662.5, "titleY": 39}},
  "y": {"field": "b1", "type": "quantitative", "scale": {"domain": [0, 108], "nice": false},
        "axis": {"orient": "left", "values": [0,20,40,60,80,100], "format": "~f", "tickSize": -18, "labelPadding": 25.5, "title": "Events/0.028 GeV", "titleX": -69, "titleY": 4}}
 }},
{"mark": {"type": "area", "interpolate": "step", "fill": {"gradient": "linear", "x1": 0, "y1": 0, "x2": 1.1377, "y2": 0.1946, "stops": [{"offset":0,"color":"red"},{"offset":0.002,"color":"red"},{"offset":0.002,"color":"transparent"},{"offset":0.016,"color":"transparent"},{"offset":0.016,"color":"red"},{"offset":0.018,"color":"red"},{"offset":0.018,"color":"transparent"},{"offset":0.032,"color":"transparent"},{"offset":0.032,"color":"red"},{"offset":0.034,"color":"red"},{"offset":0.034,"color":"transparent"},{"offset":0.048,"color":"transparent"},{"offset":0.048,"color":"red"},{"offset":0.05,"color":"red"},{"offset":0.05,"color":"transparent"},{"offset":0.064,"color":"transparent"},{"offset":0.064,"color":"red"},{"offset":0.066,"color":"red"},{"offset":0.066,"color":"transparent"},{"offset":0.08,"color":"transparent"},{"offset":0.08,"color":"red"},{"offset":0.082,"color":"red"},{"offset":0.082,"color":"transparent"},{"offset":0.096,"color":"transparent"},{"offset":0.096,"color":"red"},{"offset":0.098,"color":"red"},{"offset":0.098,"color":"transparent"},{"offset":0.112,"color":"transparent"},{"offset":0.112,"color":"red"},{"offset":0.114,"color":"red"},{"offset":0.114,"color":"transparent"},{"offset":0.128,"color":"transparent"},{"offset":0.128,"color":"red"},{"offset":0.13,"color":"red"},{"offset":0.13,"color":"transparent"},{"offset":0.144,"color":"transparent"},{"offset":0.144,"color":"red"},{"offset":0.146,"color":"red"},{"offset":0.146,"color":"transparent"},{"offset":0.16,"color":"transparent"},{"offset":0.16,"color":"red"},{"offset":0.162,"color":"red"},{"offset":0.162,"color":"transparent"},{"offset":0.176,"color":"transparent"},{"offset":0.176,"color":"red"},{"offset":0.178,"color":"red"},{"offset":0.178,"color":"transparent"},{"offset":0.192,"color":"transparent"},{"offset":0.192,"color":"red"},{"offset":0.194,"color":"red"},{"offset":0.194,"color":"transparent"},{"offset":0.208,"color":"transparent"},{"offset":0.208,"color":"red"},{"offset":0.21,"color":"red"},{"offset":0.21,"color":"transparent"},{"offset":0.224,"color":"transparent"},{"offset":0.224,"color":"red"},{"offset":0.226,"color":"red"},{"offset":0.226,"color":"transparent"},{"offset":0.24,"color":"transparent"},{"offset":0.24,"color":"red"},{"offset":0.242,"color":"red"},{"offset":0.242,"color":"transparent"},{"offset":0.256,"color":"transparent"},{"offset":0.256,"color":"red"},{"offset":0.258,"color":"red"},{"offset":0.258,"color":"transparent"},{"offset":0.272,"color":"transparent"},{"offset":0.272,"color":"red"},{"offset":0.274,"color":"red"},{"offset":0.274,"color":"transparent"},{"offset":0.288,"color":"transparent"},{"offset":0.288,"color":"red"},{"offset":0.29,"color":"red"},{"offset":0.29,"color":"transparent"},{"offset":0.304,"color":"transparent"},{"offset":0.304,"color":"red"},{"offset":0.306,"color":"red"},{"offset":0.306,"color":"transparent"},{"offset":0.32,"color":"transparent"},{"offset":0.32,"color":"red"},{"offset":0.322,"color":"red"},{"offset":0.322,"color":"transparent"},{"offset":0.336,"color":"transparent"},{"offset":0.336,"color":"red"},{"offset":0.338,"color":"red"},{"offset":0.338,"color":"transparent"},{"offset":0.352,"color":"transparent"},{"offset":0.352,"color":"red"},{"offset":0.354,"color":"red"},{"offset":0.354,"color":"transparent"},{"offset":0.368,"color":"transparent"},{"offset":0.368,"color":"red"},{"offset":0.37,"color":"red"},{"offset":0.37,"color":"transparent"},{"offset":0.384,"color":"transparent"},{"offset":0.384,"color":"red"},{"offset":0.386,"color":"red"},{"offset":0.386,"color":"transparent"},{"offset":0.4,"color":"transparent"},{"offset":0.4,"color":"red"},{"offset":0.402,"color":"red"},{"offset":0.402,"color":"transparent"},{"offset":0.416,"color":"transparent"},{"offset":0.416,"color":"red"},{"offset":0.418,"color":"red"},{"offset":0.418,"color":"transparent"},{"offset":0.432,"color":"transparent"},{"offset":0.432,"color":"red"},{"offset":0.434,"color":"red"},{"offset":0.434,"color":"transparent"},{"offset":0.448,"color":"transparent"},{"offset":0.448,"color":"red"},{"offset":0.45,"color":"red"},{"offset":0.45,"color":"transparent"},{"offset":0.464,"color":"transparent"},{"offset":0.464,"color":"red"},{"offset":0.466,"color":"red"},{"offset":0.466,"color":"transparent"},{"offset":0.48,"color":"transparent"},{"offset":0.48,"color":"red"},{"offset":0.482,"color":"red"},{"offset":0.482,"color":"transparent"},{"offset":0.496,"color":"transparent"},{"offset":0.496,"color":"red"},{"offset":0.498,"color":"red"},{"offset":0.498,"color":"transparent"},{"offset":0.512,"color":"transparent"},{"offset":0.512,"color":"red"},{"offset":0.514,"color":"red"},{"offset":0.514,"color":"transparent"},{"offset":0.528,"color":"transparent"},{"offset":0.528,"color":"red"},{"offset":0.53,"color":"red"},{"offset":0.53,"color":"transparent"},{"offset":0.544,"color":"transparent"},{"offset":0.544,"color":"red"},{"offset":0.546,"color":"red"},{"offset":0.546,"color":"transparent"},{"offset":0.56,"color":"transparent"},{"offset":0.56,"color":"red"},{"offset":0.562,"color":"red"},{"offset":0.562,"color":"transparent"},{"offset":0.576,"color":"transparent"},{"offset":0.576,"color":"red"},{"offset":0.578,"color":"red"},{"offset":0.578,"color":"transparent"},{"offset":0.592,"color":"transparent"},{"offset":0.592,"color":"red"},{"offset":0.594,"color":"red"},{"offset":0.594,"color":"transparent"},{"offset":0.608,"color":"transparent"},{"offset":0.608,"color":"red"},{"offset":0.61,"color":"red"},{"offset":0.61,"color":"transparent"},{"offset":0.624,"color":"transparent"},{"offset":0.624,"color":"red"},{"offset":0.626,"color":"red"},{"offset":0.626,"color":"transparent"},{"offset":0.64,"color":"transparent"},{"offset":0.64,"color":"red"},{"offset":0.642,"color":"red"},{"offset":0.642,"color":"transparent"},{"offset":0.656,"color":"transparent"},{"offset":0.656,"color":"red"},{"offset":0.658,"color":"red"},{"offset":0.658,"color":"transparent"},{"offset":0.672,"color":"transparent"},{"offset":0.672,"color":"red"},{"offset":0.674,"color":"red"},{"offset":0.674,"color":"transparent"},{"offset":0.688,"color":"transparent"},{"offset":0.688,"color":"red"},{"offset":0.69,"color":"red"},{"offset":0.69,"color":"transparent"},{"offset":0.704,"color":"transparent"},{"offset":0.704,"color":"red"},{"offset":0.706,"color":"red"},{"offset":0.706,"color":"transparent"},{"offset":0.72,"color":"transparent"},{"offset":0.72,"color":"red"},{"offset":0.722,"color":"red"},{"offset":0.722,"color":"transparent"},{"offset":0.736,"color":"transparent"},{"offset":0.736,"color":"red"},{"offset":0.738,"color":"red"},{"offset":0.738,"color":"transparent"},{"offset":0.752,"color":"transparent"},{"offset":0.752,"color":"red"},{"offset":0.754,"color":"red"},{"offset":0.754,"color":"transparent"},{"offset":0.768,"color":"transparent"},{"offset":0.768,"color":"red"},{"offset":0.77,"color":"red"},{"offset":0.77,"color":"transparent"},{"offset":0.784,"color":"transparent"},{"offset":0.784,"color":"red"},{"offset":0.786,"color":"red"},{"offset":0.786,"color":"transparent"},{"offset":0.8,"color":"transparent"},{"offset":0.8,"color":"red"},{"offset":0.802,"color":"red"},{"offset":0.802,"color":"transparent"},{"offset":0.816,"color":"transparent"},{"offset":0.816,"color":"red"},{"offset":0.818,"color":"red"},{"offset":0.818,"color":"transparent"},{"offset":0.832,"color":"transparent"},{"offset":0.832,"color":"red"},{"offset":0.834,"color":"red"},{"offset":0.834,"color":"transparent"},{"offset":0.848,"color":"transparent"},{"offset":0.848,"color":"red"},{"offset":0.85,"color":"red"},{"offset":0.85,"color":"transparent"},{"offset":0.864,"color":"transparent"},{"offset":0.864,"color":"red"},{"offset":0.866,"color":"red"},{"offset":0.866,"color":"transparent"},{"offset":0.88,"color":"transparent"},{"offset":0.88,"color":"red"},{"offset":0.882,"color":"red"},{"offset":0.882,"color":"transparent"},{"offset":0.896,"color":"transparent"},{"offset":0.896,"color":"red"},{"offset":0.898,"color":"red"},{"offset":0.898,"color":"transparent"},{"offset":0.912,"color":"transparent"},{"offset":0.912,"color":"red"},{"offset":0.914,"color":"red"},{"offset":0.914,"color":"transparent"},{"offset":0.928,"color":"transparent"},{"offset":0.928,"color":"red"},{"offset":0.93,"color":"red"},{"offset":0.93,"color":"transparent"},{"offset":0.944,"color":"transparent"},{"offset":0.944,"color":"red"},{"offset":0.946,"color":"red"},{"offset":0.946,"color":"transparent"},{"offset":0.96,"color":"transparent"},{"offset":0.96,"color":"red"},{"offset":0.962,"color":"red"},{"offset":0.962,"color":"transparent"},{"offset":0.976,"color":"transparent"},{"offset":0.976,"color":"red"},{"offset":0.978,"color":"red"},{"offset":0.978,"color":"transparent"},{"offset":0.992,"color":"transparent"},{"offset":0.992,"color":"red"},{"offset":0.994,"color":"red"},{"offset":0.994,"color":"transparent"}]}},
 "encoding": {
  "x": {"field": "x", "type": "quantitative", "axis": {"orient": "bottom", "values": [0,0.1,0.2,0.3,0.4,0.5,0.6,0.7,0.8,0.9,1,1.1,1.2,1.3,1.4,1.5,1.6,1.7,1.8,1.9,2,2.1,2.2,2.3,2.4,2.5,2.6,2.7,2.8], "labels": false, "domain": false, "tickSize": -5.5, "title": null}},
  "y": {"field": "b2", "type": "quantitative", "axis": {"orient": "left", "values": [0,5,10,15,20,25,30,35,40,45,50,55,60,65,70,75,80,85,90,95,100,105], "labels": false, "domain": false, "tickSize": -9, "title": null}}
 }},
{"mark": {"type": "line", "interpolate": "step", "strokeWidth": 1.5},
 "encoding": {
  "x": {"field": "x", "type": "quantitative", "axis": null},
  "y": {"field": "b1", "type": "quantitative", "axis": null},
  "stroke": {"datum": "Background 1", "type": "nominal", "scale": {"domain": ["Background 1", "Background 2"], "range": ["#0000ff", "#ff0000"]},
    "legend": {"legendX": 497, "legendY": 38, "encode": {"symbols": {"update": {"fill": [{"test": "datum.value === 'Background 1'", "value": "#d9d9f6"}, {"value": {"gradient": "linear", "x1": 0, "y1": 0, "x2": 1, "y2": 1, "stops": [{"offset":0.05,"color":"transparent"},{"offset":0.05,"color":"red"},{"offset":0.08,"color":"red"},{"offset":0.08,"color":"transparent"},{"offset":0.2,"color":"transparent"},{"offset":0.2,"color":"red"},{"offset":0.23,"color":"red"},{"offset":0.23,"color":"transparent"},{"offset":0.35,"color":"transparent"},{"offset":0.35,"color":"red"},{"offset":0.38,"color":"red"},{"offset":0.38,"color":"transparent"},{"offset":0.5,"color":"transparent"},{"offset":0.5,"color":"red"},{"offset":0.53,"color":"red"},{"offset":0.53,"color":"transparent"},{"offset":0.65,"color":"transparent"},{"offset":0.65,"color":"red"},{"offset":0.68,"color":"red"},{"offset":0.68,"color":"transparent"},{"offset":0.8,"color":"transparent"},{"offset":0.8,"color":"red"},{"offset":0.83,"color":"red"},{"offset":0.83,"color":"transparent"},{"offset":0.95,"color":"transparent"},{"offset":0.95,"color":"red"},{"offset":0.98,"color":"red"},{"offset":0.98,"color":"transparent"}]}}], "fillOpacity": {"value": 1}}}}}}
 }},
{"mark": {"type": "line", "interpolate": "step", "strokeWidth": 1.5},
 "encoding": {
  "x": {"field": "x", "type": "quantitative", "axis": null},
  "y": {"field": "b2", "type": "quantitative", "axis": null},
  "stroke": {"datum": "Background 2", "type": "nominal"}
 }},
{"data": {"values": [{}]}, "mark": {"type": "rect", "fill": "black"},
 "encoding": {"x": {"datum": 1.9066, "type": "quantitative", "axis": null}, "x2": {"datum": 2.8315}, "y": {"datum": 106.83, "type": "quantitative", "axis": null}, "y2": {"datum": 98.927}}},
{"data": {"values": [{}]}, "mark": {"type": "rect", "fill": "white", "stroke": "black", "strokeWidth": 1},
 "encoding": {"x": {"datum": 1.8498, "type": "quantitative", "axis": null}, "x2": {"datum": 2.7937}, "y": {"datum": 110.634, "type": "quantitative", "axis": null}, "y2": {"datum": 101.268}}},
{"data": {"values": [{}]}, "mark": {"type": "text", "text": "τ⁻\u00a0 → π⁺ (μ⁻\u00a0 μ⁻)\u00a0 ν", "align": "right", "baseline": "alphabetic", "font": "Liberation Serif", "fontSize": 18, "fill": "black"},
 "encoding": {"x": {"datum": 2.5751, "type": "quantitative", "axis": null}, "y": {"datum": 103.9, "type": "quantitative", "axis": null}}},
{"data": {"values": [{}]}, "mark": {"type": "text", "text": "τ", "align": "left", "baseline": "alphabetic", "font": "Liberation Serif", "fontSize": 12, "fill": "black"},
 "encoding": {"x": {"datum": 2.5814, "type": "quantitative", "axis": null}, "y": {"datum": 102.9, "type": "quantitative", "axis": null}}},
{"data": {"values": [{}]}, "mark": {"type": "text", "text": "(c)", "align": "left", "baseline": "middle", "font": "Liberation Sans", "fontSize": 21, "fontWeight": "bold", "fill": "black"},
 "encoding": {"x": {"datum": 1.8856, "type": "quantitative", "axis": null}, "y": {"datum": 93.07, "type": "quantitative", "axis": null}}}
]
}
],
"config": {
 "background": "white",
 "font": "Liberation Sans",
 "view": {"stroke": "black", "strokeWidth": 1},
 "axis": {"domainColor": "black", "domainWidth": 1, "tickColor": "black", "tickWidth": 1, "labelFont": "Liberation Sans", "labelFontSize": 14.5, "labelColor": "black", "labelFlush": false, "labelOverlap": false, "grid": false, "titleFont": "Liberation Sans", "titleFontSize": 22, "titleFontWeight": "normal", "titleColor": "black", "zindex": 1},
 "axisX": {"titleAlign": "right", "titleBaseline": "alphabetic", "titleFontSize": 22},
 "axisY": {"titleAlign": "right", "titleBaseline": "alphabetic", "titleAngle": -90},
 "legend": {"orient": "none", "title": null, "symbolType": "square", "symbolSize": 676, "symbolStrokeWidth": 1.5, "labelFont": "Liberation Sans", "labelFontWeight": "bold", "labelFontSize": 14, "labelColor": "black", "labelOffset": 5, "rowPadding": 2, "padding": 0}
}
}
